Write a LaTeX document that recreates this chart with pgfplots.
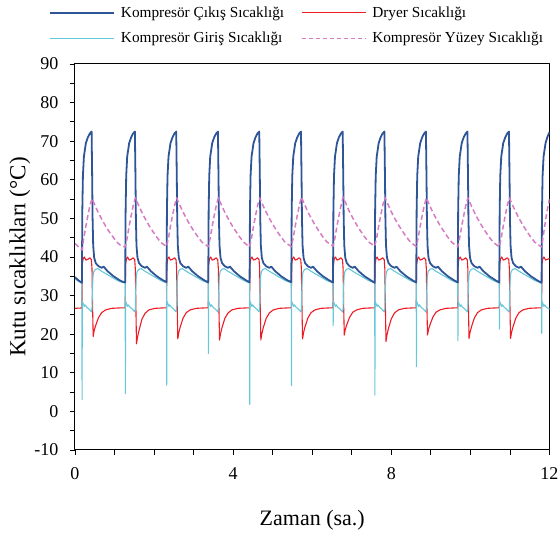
\documentclass[border=0pt]{standalone}
\usepackage{fontspec}
\setmainfont{Liberation Serif}
\usepackage{pgfplots}
\pgfplotsset{compat=1.18}
\definecolor{cBlue}{RGB}{45,85,152}
\definecolor{cRed}{RGB}{237,28,36}
\definecolor{cCyan}{RGB}{100,200,217}
\definecolor{cPink}{RGB}{214,124,196}
\begin{document}
\begin{tikzpicture}
\useasboundingbox (-75pt,-85pt) rectangle (483pt,450pt);
\begin{axis}[
 scale only axis, width=474.5pt, height=386pt,
 xmin=0, xmax=12, ymin=-10, ymax=90,
 xtick={0,4,8,12}, minor xtick={1,2,3,5,6,7,9,10,11},
 ytick={-10,0,10,20,30,40,50,60,70,80,90}, minor ytick={-5,5,15,25,35,45,55,65,75,85},
 tick align=outside, tick pos=left,
 major tick length=5pt, minor tick length=5pt,
 every tick/.style={black, line width=0.8pt},
 axis line style={line width=1pt, black},
 /pgf/number format/assume math mode=true,
 ticklabel style={font=\fontsize{18}{20}\selectfont},
 xticklabel style={yshift=-9pt},
 yticklabel style={xshift=-8pt},
 xlabel={Zaman (sa.)}, ylabel={Kutu sıcaklıkları (°C)},
 xlabel style={font=\fontsize{22}{26}\selectfont, at={(axis description cs:0.5,-0.181)}, anchor=center},
 ylabel style={font=\fontsize{23}{26}\selectfont, at={(axis description cs:-0.116,0.5)}, anchor=center},
 legend columns=2,
 legend style={draw=none, fill=none, at={(axis description cs:-0.0548,1.1544)}, anchor=north west,
   font=\fontsize{15.3}{18}\selectfont, inner sep=0pt, row sep=9.5pt,
   /tikz/every odd column/.append style={column sep=4pt},
   /tikz/every even column/.append style={column sep=15pt}},
 legend cell align=left,
 legend image code/.code={\draw[#1] (0pt,0pt) -- (64pt,0pt);},
 line join=round,
]
\addlegendimage{cBlue, line width=1.8pt}
\addlegendentry{Kompresör Çıkış Sıcaklığı}
\addlegendimage{cRed, line width=1.1pt}
\addlegendentry{Dryer Sıcaklığı}
\addlegendimage{cCyan, line width=1.1pt}
\addlegendentry{Kompresör Giriş Sıcaklığı}
\addlegendimage{cPink, line width=1.1pt, dash pattern=on 4pt off 3pt}
\addlegendentry{Kompresör Yüzey Sıcaklığı}

% Dryer
\addplot[cRed, line width=1.1pt, forget plot] coordinates {
(0,26.7)
(0.175,26.8)(0.183,38)(0.205,39.5)(0.235,40)(0.275,39.2)(0.325,39.4)(0.375,39.8)(0.415,39.3)(0.43,37)(0.445,27)(0.46,19.4)(0.485,21)(0.525,22.3)(0.595,24.3)(0.675,25.6)(0.775,26.3)(0.925,26.7)(1.125,26.8)
(1.27,26.8)(1.278,38)(1.3,39.5)(1.33,40)(1.37,39.2)(1.42,39.4)(1.47,39.8)(1.51,39.3)(1.525,37)(1.54,27)(1.555,17.5)(1.58,19.2)(1.62,21)(1.69,23.8)(1.77,25.4)(1.87,26.3)(2.02,26.7)(2.22,26.8)
(2.315,26.8)(2.323,38)(2.345,39.5)(2.375,40)(2.415,39.2)(2.465,39.4)(2.515,39.8)(2.555,39.3)(2.57,37)(2.585,27)(2.6,18.8)(2.625,20.4)(2.665,22)(2.735,24.2)(2.815,25.6)(2.915,26.3)(3.065,26.7)(3.265,26.8)
(3.37,26.8)(3.378,38)(3.4,39.5)(3.43,40)(3.47,39.2)(3.52,39.4)(3.57,39.8)(3.61,39.3)(3.625,37)(3.64,27)(3.655,18.5)(3.68,20.1)(3.72,21.8)(3.79,24.1)(3.87,25.5)(3.97,26.3)(4.12,26.7)(4.32,26.8)
(4.415,26.8)(4.423,38)(4.445,39.5)(4.475,40)(4.515,39.2)(4.565,39.4)(4.615,39.8)(4.655,39.3)(4.67,37)(4.685,27)(4.7,18.5)(4.725,20.1)(4.765,21.8)(4.835,24.1)(4.915,25.5)(5.015,26.3)(5.165,26.7)(5.365,26.8)
(5.47,26.8)(5.478,38)(5.5,39.5)(5.53,40)(5.57,39.2)(5.62,39.4)(5.67,39.8)(5.71,39.3)(5.725,37)(5.74,27)(5.755,18.8)(5.78,20.4)(5.82,22)(5.89,24.2)(5.97,25.6)(6.07,26.3)(6.22,26.7)(6.42,26.8)
(6.525,26.8)(6.533,38)(6.555,39.5)(6.585,40)(6.625,39.2)(6.675,39.4)(6.725,39.8)(6.765,39.3)(6.78,37)(6.795,27)(6.81,19.8)(6.835,21.2)(6.875,22.5)(6.945,24.4)(7.025,25.7)(7.125,26.3)(7.275,26.7)(7.475,26.8)
(7.58,26.8)(7.588,38)(7.61,39.5)(7.64,40)(7.68,39.2)(7.73,39.4)(7.78,39.8)(7.82,39.3)(7.835,37)(7.85,27)(7.865,18.1)(7.89,19.8)(7.93,21.6)(8.0,24)(8.08,25.5)(8.18,26.3)(8.33,26.7)(8.53,26.8)
(8.63,26.8)(8.638,38)(8.66,39.5)(8.69,40)(8.73,39.2)(8.78,39.4)(8.83,39.8)(8.87,39.3)(8.885,37)(8.9,27)(8.915,19.8)(8.94,21.2)(8.98,22.5)(9.05,24.4)(9.13,25.7)(9.23,26.3)(9.38,26.7)(9.58,26.8)
(9.68,26.8)(9.688,38)(9.71,39.5)(9.74,40)(9.78,39.2)(9.83,39.4)(9.88,39.8)(9.92,39.3)(9.935,37)(9.95,27)(9.965,18.9)(9.99,20.5)(10.03,22)(10.1,24.2)(10.18,25.6)(10.28,26.3)(10.43,26.7)(10.63,26.8)
(10.73,26.8)(10.738,38)(10.76,39.5)(10.79,40)(10.83,39.2)(10.88,39.4)(10.93,39.8)(10.97,39.3)(10.985,37)(11.0,27)(11.015,18.9)(11.04,20.5)(11.08,22)(11.15,24.2)(11.23,25.6)(11.33,26.3)(11.48,26.7)(11.68,26.8)
(11.8,26.8)(11.808,38)(11.83,39.5)(11.86,40)(11.9,39.2)(11.95,39.4)(12.0,39.6)
};

% Inlet
\addplot[cCyan, line width=1.1pt, forget plot] coordinates {
(0,34.3)(0.08,33.8)
(0.175,33.2)(0.179,3.1)(0.185,28.5)(0.205,28)(0.235,27.2)(0.255,27.6)(0.295,27)(0.355,26.5)(0.415,25.8)(0.43,26.5)(0.44,31)(0.455,35)(0.475,36.2)(0.515,36.8)(0.575,37)(0.675,36.3)(0.775,35.7)(0.925,34.8)(1.075,33.9)(1.2,33.4)
(1.27,33.3)(1.274,4.6)(1.28,28.5)(1.3,28)(1.33,27.2)(1.35,27.6)(1.39,27)(1.45,26.5)(1.51,25.8)(1.525,26.5)(1.535,31)(1.55,35)(1.57,36.2)(1.61,36.8)(1.67,37)(1.77,36.3)(1.87,35.7)(2.02,34.8)(2.17,33.9)
(2.315,33.3)(2.319,6.8)(2.325,28.5)(2.345,28)(2.375,27.2)(2.395,27.6)(2.435,27)(2.495,26.5)(2.555,25.8)(2.57,26.5)(2.58,31)(2.595,35)(2.615,36.2)(2.655,36.8)(2.715,37)(2.815,36.3)(2.915,35.7)(3.065,34.8)(3.215,33.9)
(3.37,33.3)(3.374,15)(3.38,28.5)(3.4,28)(3.43,27.2)(3.45,27.6)(3.49,27)(3.55,26.5)(3.61,25.8)(3.625,26.5)(3.635,31)(3.65,35)(3.67,36.2)(3.71,36.8)(3.77,37)(3.87,36.3)(3.97,35.7)(4.12,34.8)(4.27,33.9)
(4.415,33.3)(4.419,1.8)(4.425,28.5)(4.445,28)(4.475,27.2)(4.495,27.6)(4.535,27)(4.595,26.5)(4.655,25.8)(4.67,26.5)(4.68,31)(4.695,35)(4.715,36.2)(4.755,36.8)(4.815,37)(4.915,36.3)(5.015,35.7)(5.165,34.8)(5.315,33.9)
(5.47,33.3)(5.474,6.7)(5.48,28.5)(5.5,28)(5.53,27.2)(5.55,27.6)(5.59,27)(5.65,26.5)(5.71,25.8)(5.725,26.5)(5.735,31)(5.75,35)(5.77,36.2)(5.81,36.8)(5.87,37)(5.97,36.3)(6.07,35.7)(6.22,34.8)(6.37,33.9)
(6.525,33.3)(6.529,22.2)(6.535,28.5)(6.555,28)(6.585,27.2)(6.605,27.6)(6.645,27)(6.705,26.5)(6.765,25.8)(6.78,26.5)(6.79,31)(6.805,35)(6.825,36.2)(6.865,36.8)(6.925,37)(7.025,36.3)(7.125,35.7)(7.275,34.8)(7.425,33.9)
(7.58,33.3)(7.584,4.2)(7.59,28.5)(7.61,28)(7.64,27.2)(7.66,27.6)(7.7,27)(7.76,26.5)(7.82,25.8)(7.835,26.5)(7.845,31)(7.86,35)(7.88,36.2)(7.92,36.8)(7.98,37)(8.08,36.3)(8.18,35.7)(8.33,34.8)(8.48,33.9)
(8.63,33.3)(8.634,11.6)(8.64,28.5)(8.66,28)(8.69,27.2)(8.71,27.6)(8.75,27)(8.81,26.5)(8.87,25.8)(8.885,26.5)(8.895,31)(8.91,35)(8.93,36.2)(8.97,36.8)(9.03,37)(9.13,36.3)(9.23,35.7)(9.38,34.8)(9.53,33.9)
(9.68,33.3)(9.684,18.3)(9.69,28.5)(9.71,28)(9.74,27.2)(9.76,27.6)(9.8,27)(9.86,26.5)(9.92,25.8)(9.935,26.5)(9.945,31)(9.96,35)(9.98,36.2)(10.02,36.8)(10.08,37)(10.18,36.3)(10.28,35.7)(10.43,34.8)(10.58,33.9)
(10.73,33.3)(10.734,21.3)(10.74,28.5)(10.76,28)(10.79,27.2)(10.81,27.6)(10.85,27)(10.91,26.5)(10.97,25.8)(10.985,26.5)(10.995,31)(11.01,35)(11.03,36.2)(11.07,36.8)(11.13,37)(11.23,36.3)(11.33,35.7)(11.48,34.8)(11.63,33.9)
(11.8,33.3)(11.804,20.2)(11.81,28.5)(11.83,28)(11.86,27.2)(11.88,27.6)(11.92,27)(11.98,26.6)(12.0,26.5)
};

% Outlet
\addplot[cBlue, line width=1.8pt, forget plot] coordinates {
(0,34.8)(0.08,34.0)
(0.175,33.3)(0.185,52)(0.2,61)(0.225,66)(0.275,69.5)(0.325,71)(0.375,72)(0.42,72.5)(0.435,60)(0.445,50)(0.46,43)(0.485,39.8)(0.525,38.4)(0.595,37.6)(0.675,37.2)(0.725,37.5)(0.825,36.3)(0.975,35)(1.125,34)(1.2,33.6)
(1.27,33.4)(1.28,52)(1.295,61)(1.32,66)(1.37,69.5)(1.42,71)(1.47,72)(1.515,72.5)(1.53,60)(1.54,50)(1.555,43)(1.58,39.8)(1.62,38.4)(1.69,37.6)(1.77,37.2)(1.82,37.5)(1.92,36.3)(2.07,35)(2.22,34)
(2.315,33.5)(2.325,52)(2.34,61)(2.365,66)(2.415,69.5)(2.465,71)(2.515,72)(2.56,72.5)(2.575,60)(2.585,50)(2.6,43)(2.625,39.8)(2.665,38.4)(2.735,37.6)(2.815,37.2)(2.865,37.5)(2.965,36.3)(3.115,35)(3.265,34)
(3.37,33.4)(3.38,52)(3.395,61)(3.42,66)(3.47,69.5)(3.52,71)(3.57,72)(3.615,72.5)(3.63,60)(3.64,50)(3.655,43)(3.68,39.8)(3.72,38.4)(3.79,37.6)(3.87,37.2)(3.92,37.5)(4.02,36.3)(4.17,35)(4.32,34)
(4.415,33.4)(4.425,52)(4.44,61)(4.465,66)(4.515,69.5)(4.565,71)(4.615,72)(4.66,72.5)(4.675,60)(4.685,50)(4.7,43)(4.725,39.8)(4.765,38.4)(4.835,37.6)(4.915,37.2)(4.965,37.5)(5.065,36.3)(5.215,35)(5.365,34)
(5.47,33.5)(5.48,52)(5.495,61)(5.52,66)(5.57,69.5)(5.62,71)(5.67,72)(5.715,72.5)(5.73,60)(5.74,50)(5.755,43)(5.78,39.8)(5.82,38.4)(5.89,37.6)(5.97,37.2)(6.02,37.5)(6.12,36.3)(6.27,35)(6.42,34)
(6.525,33.4)(6.535,52)(6.55,61)(6.575,66)(6.625,69.5)(6.675,71)(6.725,72)(6.77,72.5)(6.785,60)(6.795,50)(6.81,43)(6.835,39.8)(6.875,38.4)(6.945,37.6)(7.025,37.2)(7.075,37.5)(7.175,36.3)(7.325,35)(7.475,34)
(7.58,33.3)(7.59,52)(7.605,61)(7.63,66)(7.68,69.5)(7.73,71)(7.78,72)(7.825,72.5)(7.84,60)(7.85,50)(7.865,43)(7.89,39.8)(7.93,38.4)(8.0,37.6)(8.08,37.2)(8.13,37.5)(8.23,36.3)(8.38,35)(8.53,34)
(8.63,33.4)(8.64,52)(8.655,61)(8.68,66)(8.73,69.5)(8.78,71)(8.83,72)(8.875,72.5)(8.89,60)(8.9,50)(8.915,43)(8.94,39.8)(8.98,38.4)(9.05,37.6)(9.13,37.2)(9.18,37.5)(9.28,36.3)(9.43,35)(9.58,34)
(9.68,33.4)(9.69,52)(9.705,61)(9.73,66)(9.78,69.5)(9.83,71)(9.88,72)(9.925,72.5)(9.94,60)(9.95,50)(9.965,43)(9.99,39.8)(10.03,38.4)(10.1,37.6)(10.18,37.2)(10.23,37.5)(10.33,36.3)(10.48,35)(10.63,34)
(10.73,33.4)(10.74,52)(10.755,61)(10.78,66)(10.83,69.5)(10.88,71)(10.93,72)(10.975,72.5)(10.99,60)(11.0,50)(11.015,43)(11.04,39.8)(11.08,38.4)(11.15,37.6)(11.23,37.2)(11.28,37.5)(11.38,36.3)(11.53,35)(11.68,34)
(11.8,33.3)(11.81,52)(11.825,61)(11.85,66)(11.9,69.5)(11.95,71.2)(12.0,72.3)
};

% Surface
\addplot[cPink, line width=1.5pt, dash pattern=on 5pt off 3pt, forget plot] coordinates {
(0,43.5)(0.175,41.8)(0.225,45)(0.275,48)(0.325,50.7)(0.375,53.2)(0.43,55.1)(0.495,53.6)(0.575,51.8)(0.675,49.8)(0.775,48)(0.875,46.4)(0.975,45)(1.075,43.7)(1.175,42.8)
(1.27,42.6)(1.32,45)(1.37,48)(1.42,50.7)(1.47,53.2)(1.525,55.3)(1.59,53.8)(1.67,52)(1.77,50)(1.87,48.2)(1.97,46.6)(2.07,45.1)(2.17,43.8)
(2.315,42.7)(2.365,45)(2.415,48)(2.465,50.7)(2.515,53.2)(2.57,55.3)(2.635,53.8)(2.715,52)(2.815,50)(2.915,48.2)(3.015,46.6)(3.115,45.1)(3.215,43.8)
(3.37,42.7)(3.42,45)(3.47,48)(3.52,50.7)(3.57,53.2)(3.625,55.3)(3.69,53.8)(3.77,52)(3.87,50)(3.97,48.2)(4.07,46.6)(4.17,45.1)(4.27,43.8)
(4.415,42.6)(4.465,45)(4.515,48)(4.565,50.7)(4.615,53.2)(4.67,55.3)(4.735,53.8)(4.815,52)(4.915,50)(5.015,48.2)(5.115,46.6)(5.215,45.1)(5.315,43.8)
(5.47,42.7)(5.52,45)(5.57,48)(5.62,50.7)(5.67,53.2)(5.725,55.5)(5.79,54)(5.87,52.1)(5.97,50.1)(6.07,48.3)(6.17,46.7)(6.27,45.2)(6.37,43.9)
(6.525,42.8)(6.575,45)(6.625,48)(6.675,50.7)(6.725,53.2)(6.78,55.5)(6.845,54)(6.925,52.1)(7.025,50.1)(7.125,48.3)(7.225,46.7)(7.325,45.2)(7.425,43.9)
(7.58,42.8)(7.63,45)(7.68,48)(7.73,50.7)(7.78,53.2)(7.835,55.5)(7.9,54)(7.98,52.1)(8.08,50.1)(8.18,48.3)(8.28,46.7)(8.38,45.2)(8.48,43.9)
(8.63,42.7)(8.68,45)(8.73,48)(8.78,50.7)(8.83,53.2)(8.885,55.3)(8.95,53.8)(9.03,52)(9.13,50)(9.23,48.2)(9.33,46.6)(9.43,45.1)(9.53,43.8)
(9.68,42.6)(9.73,45)(9.78,48)(9.83,50.7)(9.88,53.2)(9.935,55.3)(10.0,53.8)(10.08,52)(10.18,50)(10.28,48.2)(10.38,46.6)(10.48,45.1)(10.58,43.8)
(10.73,42.6)(10.78,45)(10.83,48)(10.88,50.7)(10.93,53.2)(10.985,55.3)(11.05,53.8)(11.13,52)(11.23,50)(11.33,48.2)(11.43,46.6)(11.53,45.1)(11.63,43.8)
(11.8,42.6)(11.85,46)(11.9,49.5)(11.95,52.5)(12.0,55)
};
\end{axis}
\end{tikzpicture}
\end{document}
